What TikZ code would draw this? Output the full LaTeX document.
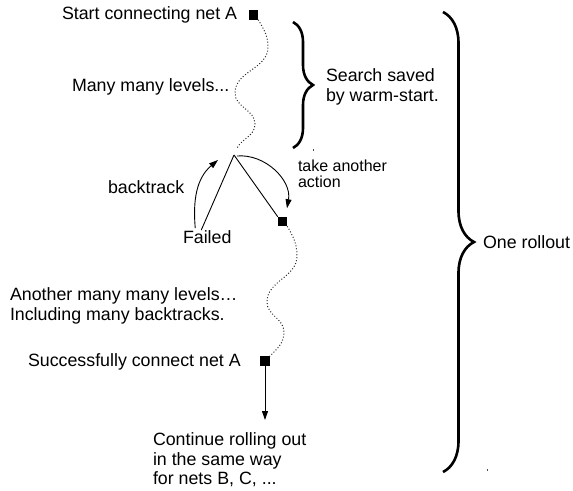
\documentclass[tikz,border=0pt]{standalone}
\usepackage{fontspec}
\setmainfont{Liberation Sans}
\usetikzlibrary{arrows.meta,decorations.pathreplacing,calc}
\begin{document}
\begin{tikzpicture}[x=1pt,y=1pt,
  lbl/.style={inner sep=0pt,outer sep=0pt,font=\fontsize{17.8}{19.5}\selectfont},
  small/.style={inner sep=0pt,outer sep=0pt,font=\fontsize{16}{16}\selectfont},
  state/.style={draw=none,fill=black,minimum size=9.5pt,inner sep=0pt,outer sep=0pt},
  wave/.style={line width=1pt,black!85,dash pattern=on 1pt off 2pt},
  conn/.style={line width=0.9pt},
  arr/.style={line width=0.9pt,-{Triangle[length=9pt,width=6pt]}},
  bigbrace/.style={decorate,decoration={brace,amplitude=#1},line width=2.6pt},
]
\useasboundingbox (0,0) rectangle (573,-490);

% states
\node[state] (s1) at (253.5,-15) {};
\node[state] (s2) at (282.5,-221.5) {};
\node[state] (s3) at (265,-361) {};
\coordinate (w1end) at (237,-148);
\coordinate (B) at (234,-155);
\coordinate (cont) at (265,-420);

% texts
\node[lbl,anchor=base west] (tstart) at (62,-19.3) {Start connecting net A};
\node[lbl,anchor=base west] (tmany) at (72,-91) {Many many levels...};
\node[lbl,anchor=west,align=left] (tsearch) at (326,-87) {Search saved\\by warm-start.};
\node[lbl,anchor=base west] (tback) at (108,-193) {backtrack};
\node[lbl,anchor=base west] (tfail) at (183,-243) {Failed};
\node[small,anchor=west,align=left] (ttake) at (298,-174) {take another\\action};
\node[lbl,anchor=west,align=left] (tanother) at (10,-306) {Another many many levels…\\Including many backtracks.};
\node[lbl,anchor=base west] (tsucc) at (28,-366) {Successfully connect net A};
\node[lbl,anchor=west,align=left] (tcont) at (153,-460) {Continue rolling out\\in the same way\\for nets B, C, ...};
\node[lbl,anchor=west] (troll) at (483,-242) {One rollout};

% dotted waves
\draw[wave] (s1.south east) to[out=-60,in=90] (268,-47) to[out=-90,in=90] (235,-93)
  to[out=-90,in=90] (255,-124) to[out=-90,in=60] (w1end);
\draw[wave] (s2.south east) to[out=-60,in=90] (297,-256) to[out=-90,in=90] (267,-302)
  to[out=-90,in=90] (284,-332) to[out=-90,in=45] (s3.north east);

% branches
\draw[conn] (B) -- ([xshift=-6pt]tfail.north);
\draw[conn] (B) -- (s2.north west);
\draw[arr] ([xshift=-12pt,yshift=2pt]tfail.north) to[out=95,in=-140] ([shift={(-16,-5)}]B);
\draw[arr] ([shift={(3,-1)}]B) to[out=5,in=80] ([shift={(4.5,8.5)}]s2.north);
\draw[arr] (s3.south) -- (cont);

% braces
\draw[bigbrace=20pt] (293,-22) -- (293,-148);
\draw[bigbrace=31pt] (443,-12) -- (443,-472);

% tiny marks
\fill[black!70] (312.5,-149) rectangle (313.5,-151);
\fill[black!70] (486.5,-469) rectangle (487.5,-471);
\end{tikzpicture}
\end{document}
